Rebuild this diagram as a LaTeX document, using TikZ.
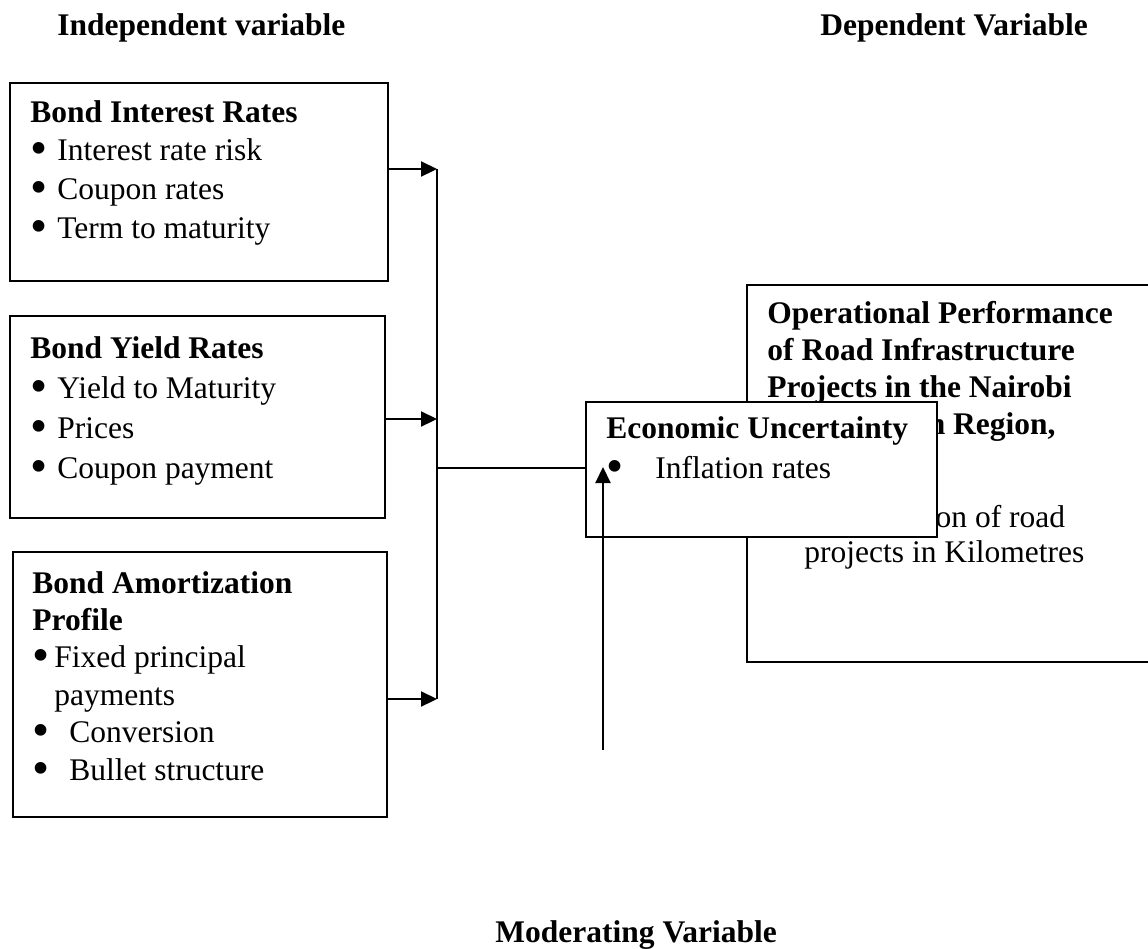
\documentclass[tikz,border=0pt]{standalone}
\usepackage{fontspec}
\setmainfont{Liberation Serif}
\usetikzlibrary{arrows.meta,positioning}
\tikzset{
  frm/.style={draw=black, line width=1pt, inner sep=0pt, anchor=north west},
  note/.style={font=\fontsize{15.75}{#1}\selectfont, align=left, inner sep=0pt, anchor=base west},
  head/.style={font=\fontsize{15.75}{19}\selectfont\bfseries, inner sep=0pt, anchor=base west},
  arr/.style={-{Triangle[length=8pt,width=7.5pt]}, line width=1.1pt},
  bus/.style={line width=0.6pt},
}
\newcommand{\bul}[1]{\makebox[#1][l]{\raisebox{-2pt}{\scalebox{1.55}{\textbullet}}}}

\begin{document}
\begin{tikzpicture}[x=0.5pt,y=-0.5pt]
\useasboundingbox (0,0) rectangle (1148,949);
% ================= headings =================
\node[head] (hind) at (57,35) {Independent variable};
\node[head] (hdep) at (820,35) {Dependent Variable};
\node[head] (hmod) at (495,942) {Moderating Variable};
% ================= independent variables (anchored at last baseline) =================
\node[frm, minimum width=189pt, minimum height=99pt] (bir) at (9,82) {};
\node[note=19.3pt] (birt) at (30,238) {\textbf{Bond Interest Rates}\\ \bul{13.5pt}Interest rate risk\\ \bul{13.5pt}Coupon rates\\ \bul{13.5pt}Term to maturity};
\node[frm, minimum width=187.5pt, minimum height=101pt] (byr) at (9,315) {};
\node[note=20pt] (byrt) at (30,478) {\textbf{Bond Yield Rates}\\ \bul{13.5pt}Yield to Maturity\\ \bul{13.5pt}Prices\\ \bul{13.5pt}Coupon payment};
\node[frm, minimum width=187pt, minimum height=132.5pt] (bap) at (12,551) {};
\node[note=18.7pt] (bapt) at (32,780) {\textbf{Bond Amortization}\\ \textbf{Profile}\\ \bul{11pt}Fixed principal\\ \hspace*{11pt}payments\\ \bul{18.5pt}Conversion\\ \bul{18.5pt}Bullet structure};
% ================= dependent variable =================
\node[frm, minimum width=212pt, minimum height=188.5pt] (opr) at (746,284) {};
\node[note=18.5pt] (oprt) at (767,434) {\textbf{Operational Performance}\\ \textbf{of Road Infrastructure}\\ \textbf{Projects in the Nairobi}\\ \textbf{Metropolitan Region,}};
\node[note=17.5pt] (oprk) at (804,562) {Construction of road\\ projects in Kilometres};
% ================= moderating variable =================
\node[frm, fill=white, minimum width=175.5pt, minimum height=67.5pt] (eu) at (585,401) {};
\node[note=20pt] (eut) at (606,478) {\textbf{Economic Uncertainty}\\ \bul{24.5pt}Inflation rates};
% ================= connectors =================
\coordinate (bt) at (437,169);
\coordinate (bm) at (437,419);
\coordinate (bb) at (437,699);
\coordinate (bj) at (437,468);
\draw[bus] (bt) -- (bb);
\draw[arr] (bir.east |- bt) -- (bt);
\draw[arr] (byr.east |- bm) -- (bm);
\draw[arr] (bap.east |- bb) -- (bb);
\draw[line width=1pt] (bj) -- (eu.west |- bj);
\coordinate (mfoot) at (603,750);
\coordinate (mtip) at (603,467);
\draw[arr] (mfoot) -- (mtip);
\end{tikzpicture}
\end{document}
